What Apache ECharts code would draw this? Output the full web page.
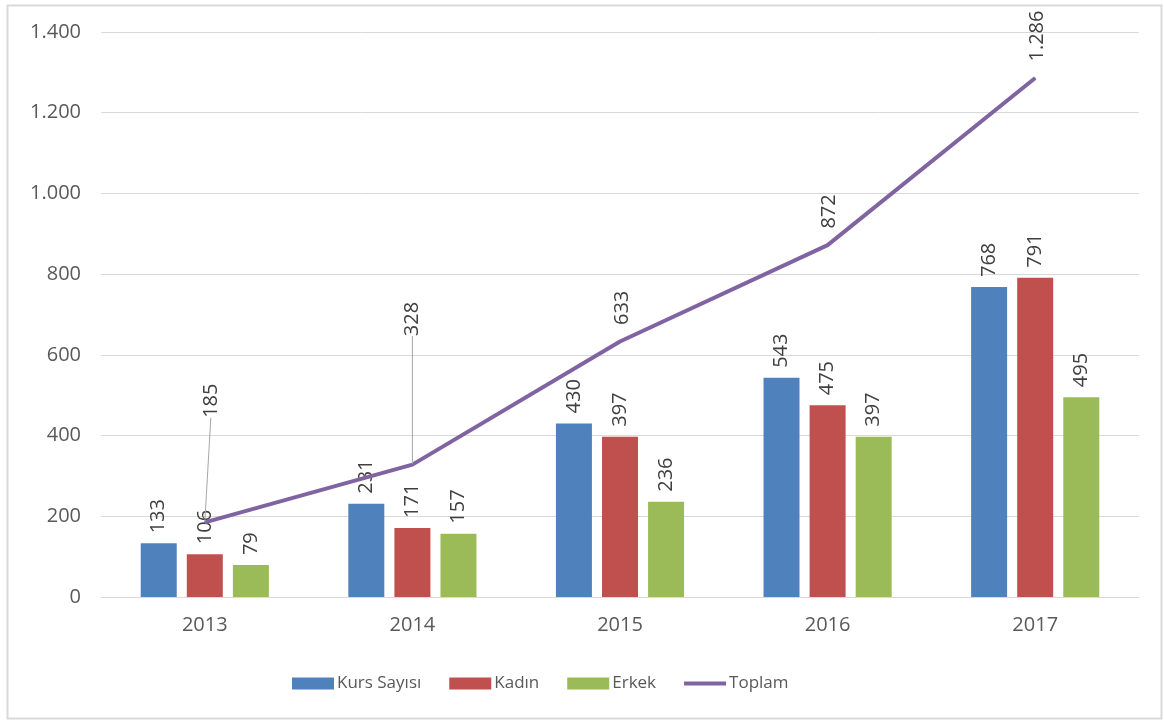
<!DOCTYPE html>
<html>
<head>
<meta charset="utf-8">
<script src="https://cdn.jsdelivr.net/npm/echarts@6/dist/echarts.min.js"></script>
<style>html,body{margin:0;padding:0;background:#fff}#c{width:1164px;height:720px}</style>
</head>
<body>
<div id="c"></div>
<script>
const years = ['2013', '2014', '2015', '2016', '2017'];
const kursSayisi = [133, 231, 430, 543, 768];
const kadin = [106, 171, 397, 475, 791];
const erkek = [79, 157, 236, 397, 495];
const toplam = [185, 328, 633, 872, 1286];
const seriesNames = ['Kurs Sayısı', 'Kadın', 'Erkek', 'Toplam'];

const FONT = 'Open Sans';
const fmt = v => String(v).replace(/\B(?=(\d{3})+(?!\d))/g, '.');

const chart = echarts.init(document.getElementById('c'), null, {renderer: 'canvas'});

const barLabel = {
  show: true, position: 'top', rotate: 90, align: 'left', verticalAlign: 'middle',
  distance: 10, fontFamily: FONT, fontSize: 20, color: '#404040',
  formatter: p => fmt(p.value)
};

function bar(name, data, color) {
  return {
    name, type: 'bar', data, barWidth: 36, barGap: '28%',
    itemStyle: {color}, label: barLabel
  };
}

chart.setOption({
  animation: false,
  textStyle: {fontFamily: FONT},
  graphic: [{
    type: 'rect', left: 5, top: 3, shape: {width: 1154, height: 713},
    style: {fill: 'none', stroke: '#d9d9d9', lineWidth: 2}, silent: true
  }],
  grid: {left: 101, right: 25, top: 32, bottom: 123},
  legend: {
    bottom: 23, left: 287, itemWidth: 42, itemHeight: 12, itemGap: 28,
    textStyle: {fontFamily: FONT, fontSize: 17, color: '#595959', padding: [0, 0, 0, -2]},
    data: seriesNames.map((n, i) => i === 3 ? {name: n, icon: 'path://M0,0 L42,0 L42,4 L0,4 Z'} : {name: n, icon: 'rect'})
  },
  xAxis: {
    type: 'category', data: years,
    axisLine: {show: true, lineStyle: {color: '#d9d9d9', width: 1}},
    axisTick: {show: false},
    axisLabel: {fontFamily: FONT, fontSize: 20, color: '#595959', margin: 18}
  },
  yAxis: {
    type: 'value', min: 0, max: 1400, interval: 200,
    axisLine: {show: false}, axisTick: {show: false},
    splitLine: {lineStyle: {color: '#d9d9d9', width: 1}},
    axisLabel: {fontFamily: FONT, fontSize: 20, color: '#595959', margin: 20, formatter: v => fmt(v)}
  },
  series: [
    bar(seriesNames[0], kursSayisi, '#4F81BD'),
    bar(seriesNames[1], kadin, '#C0504D'),
    bar(seriesNames[2], erkek, '#9BBB59'),
    {
      name: seriesNames[3], type: 'line',
      data: toplam.map((v, i) => i < 2 ? {value: v, labelLine: {show: true}} : {value: v}),
      symbol: 'circle', symbolSize: 1, showSymbol: true,
      lineStyle: {color: '#8064A2', width: 4},
      itemStyle: {color: '#8064A2'},
      z: 5,
      label: {
        show: true, position: 'top', rotate: 90, align: 'left', verticalAlign: 'middle',
        distance: 16, fontFamily: FONT, fontSize: 20, color: '#404040',
        formatter: p => fmt(p.value)
      },
      labelLine: {show: false, lineStyle: {color: '#a6a6a6', width: 1}},
      labelLayout: p => {
        if (p.dataIndex === 0) return {dx: 88, dy: 6};
        if (p.dataIndex === 1) return {dx: 112, dy: 0};
        return {dy: 2};
      }
    }
  ]
});
</script>
</body>
</html>
